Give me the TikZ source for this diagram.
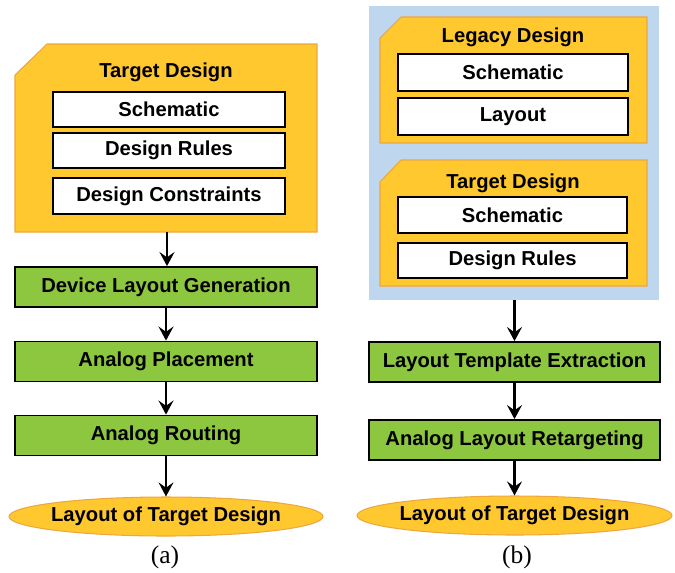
\documentclass[tikz,border=0pt]{standalone}
\usepackage{fontspec}
\setmainfont{Liberation Sans}
\newfontfamily\capfont{Liberation Serif}
\usetikzlibrary{arrows.meta,shapes.geometric}
\definecolor{gold}{RGB}{255,200,46}
\definecolor{goldline}{RGB}{238,166,62}
\definecolor{leaf}{RGB}{141,198,63}
\definecolor{sky}{RGB}{190,214,238}

\begin{document}
\begin{tikzpicture}[x=0.02cm, y=-0.02cm, >={Stealth[length=8pt,width=8.5pt,inset=3pt]},
  font=\fontsize{11.5}{13}\selectfont\bfseries,
  pad/.style={fill=gold, draw=goldline, line width=0.6pt},
  item/.style={draw=black, fill=white, line width=1pt, inner sep=0pt, minimum height=0.7cm},
  stage/.style={draw=black, fill=leaf, line width=1pt, inner sep=0pt, minimum height=0.8cm},
  result/.style={ellipse, fill=gold, draw=goldline, line width=0.6pt, inner xsep=-3.5pt, inner ysep=0pt, minimum height=0.78cm},
  flow/.style={->, line width=1.3pt},
  caption/.style={font=\capfont\fontsize{14.5}{16}\selectfont}]
\useasboundingbox (0,0) rectangle (675,572);

% (a)
\draw[pad] (15,75) -- (47,44) -- (317,44) -- (317,232) -- (15,232) -- cycle;
\coordinate (padA) at (167,232);
\node (tgtA) at (166,72) {Target Design};
\node (schA) at (169,109.5) [item, minimum width=4.64cm] {Schematic};
\node (rulA) at (169,150.5) [item, minimum width=4.64cm] {Design Rules};
\node (conA) at (169,196) [item, minimum width=4.64cm, minimum height=0.72cm] {Design Constraints};
\node (gen) at (166,287) [stage, minimum width=6.04cm] {Device Layout Generation};
\node (place) at (166,361.5) [stage, minimum width=6.04cm] {Analog Placement};
\node (route) at (166,435.5) [stage, minimum width=6.04cm] {Analog Routing};
\node (outA) at (166,516.5) [result, minimum width=6.28cm] {Layout of Target Design};
\node (capA) at (165,557) [caption] {(a)};
\draw[flow] (padA) -- (gen.north -| padA);
\draw[flow] (gen) -- (place);
\draw[flow] (place) -- (route);
\draw[flow] (route) -- (outA);

% (b)
\fill[sky] (369,6) rectangle (659,300);
\coordinate (skyB) at (514.5,300);
\draw[pad] (380,38) -- (401,17) -- (647,17) -- (647,143) -- (380,143) -- cycle;
\node (legB) at (513,37) {Legacy Design};
\node (schL) at (513,72.5) [item, minimum width=4.6cm, minimum height=0.74cm] {Schematic};
\node (layL) at (513,116.5) [item, minimum width=4.6cm, minimum height=0.74cm] {Layout};
\draw[pad] (380,182) -- (401,160) -- (647,160) -- (647,286) -- (380,286) -- cycle;
\node (tgtB) at (513,183) {Target Design};
\node (schB) at (512.5,215) [item, minimum width=4.58cm, minimum height=0.72cm] {Schematic};
\node (rulB) at (512.5,260.5) [item, minimum width=4.58cm] {Design Rules};
\node (extr) at (514.5,362) [stage, minimum width=5.82cm] {Layout Template Extraction};
\node (retg) at (514.5,440) [stage, minimum width=5.82cm] {Analog Layout Retargeting};
\node (outB) at (514.5,515.5) [result, minimum width=6.3cm] {Layout of Target Design};
\node (capB) at (517,557) [caption] {(b)};
\draw[flow] (skyB) -- (extr);
\draw[flow] (extr) -- (retg);
\draw[flow] (retg) -- (outB);
\end{tikzpicture}
\end{document}
